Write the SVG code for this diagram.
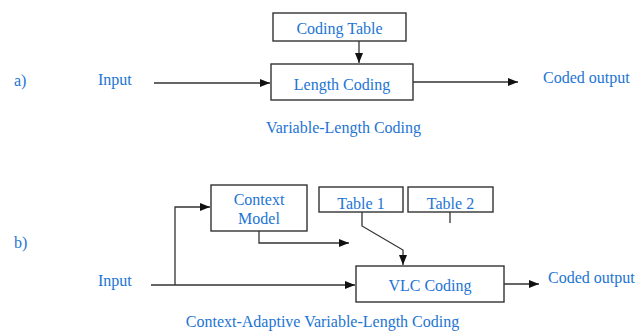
<svg xmlns="http://www.w3.org/2000/svg" width="636" height="331" viewBox="0 0 636 331">
<style>
text{font-family:"Liberation Serif","Times New Roman",serif;font-size:16px;fill:#2274d3}
.box{fill:#fff;stroke:#333;stroke-width:1.4}
.ln{fill:none;stroke:#333;stroke-width:1.3}
.mid{text-anchor:middle}
</style>
<defs>
<marker id="ah" markerWidth="10" markerHeight="8" refX="10" refY="4" orient="auto" markerUnits="userSpaceOnUse">
<path d="M0,0 L10,4 L0,8 Z" fill="#111"/>
</marker>
</defs>
<rect width="636" height="331" fill="#fff"/>
<text x="14" y="86">a)</text>
<text x="98" y="85">Input</text>
<text x="543" y="83">Coded output</text>
<text x="343.5" y="133" class="mid">Variable-Length Coding</text>
<text x="14" y="248">b)</text>
<text x="98" y="286">Input</text>
<text x="548" y="283">Coded output</text>
<text x="322.5" y="327" class="mid">Context-Adaptive Variable-Length Coding</text>
<g id="connectors">
<line class="ln" x1="154" y1="83" x2="270" y2="83" marker-end="url(#ah)"/>
<line class="ln" x1="359" y1="41" x2="359" y2="63" marker-end="url(#ah)"/>
<line class="ln" x1="411" y1="82" x2="518" y2="82" marker-end="url(#ah)"/>
<line class="ln" x1="151" y1="285" x2="355" y2="285" marker-end="url(#ah)"/>
<polyline class="ln" points="175,285 175,207 210,207" marker-end="url(#ah)"/>
<polyline class="ln" points="259,231 259,243 349,243" marker-end="url(#ah)"/>
<polyline class="ln" points="362,212 362,226 403,250 403,265" marker-end="url(#ah)"/>
<line class="ln" x1="450" y1="212" x2="450" y2="223"/>
<line class="ln" x1="504" y1="284" x2="539" y2="284" marker-end="url(#ah)"/>
</g>
<g id="coding-table">
<rect class="box" x="273" y="13" width="133" height="28"/>
<text x="339.5" y="34" class="mid">Coding Table</text>
</g>
<g id="length-coding">
<rect class="box" x="271" y="64" width="142" height="36"/>
<text x="342" y="90" class="mid">Length Coding</text>
</g>
<g id="context-model">
<rect class="box" x="211" y="185" width="96" height="46"/>
<text x="259" y="205" class="mid">Context</text>
<text x="259" y="224" class="mid">Model</text>
</g>
<g id="table-1">
<rect class="box" x="319" y="187" width="84" height="25"/>
<text x="361" y="209" class="mid">Table 1</text>
</g>
<g id="table-2">
<rect class="box" x="408" y="187" width="85" height="25"/>
<text x="450.5" y="209" class="mid">Table 2</text>
</g>
<g id="vlc-coding">
<rect class="box" x="356" y="266" width="148" height="36"/>
<text x="430" y="291" class="mid">VLC Coding</text>
</g>
</svg>
